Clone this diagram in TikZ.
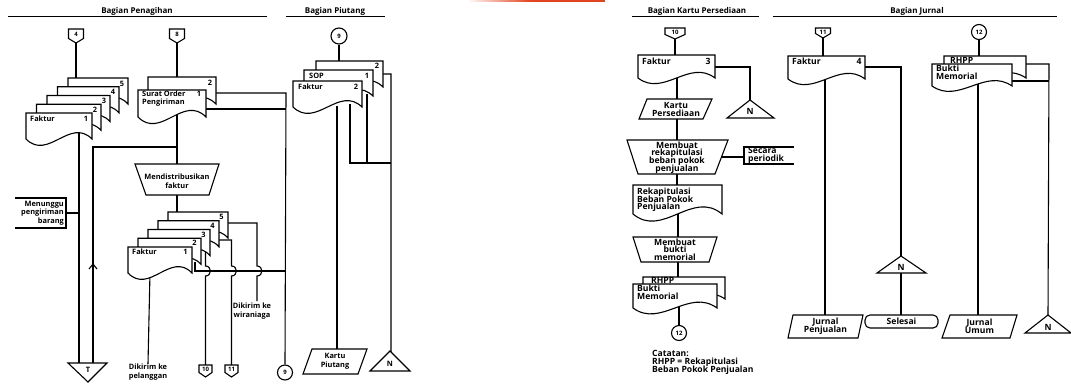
\documentclass[tikz,border=0pt]{standalone}
\usepackage{fontspec}
\setmainfont{Open Sans}
\usetikzlibrary{calc}
\pgfdeclarelayer{paper}
\pgfdeclarelayer{flowlayer}
\pgfsetlayers{paper,flowlayer,main}
\definecolor{barred}{HTML}{E2441F}
\lineskiplimit=-100pt

% document symbol: name, left, top, width, height at the left edge
\newcommand{\docshape}[5]{%
  \filldraw[sym] (#2,#3) -- (#2+#4,#3) -- (#2+#4,#3+#5)
    .. controls (#2+0.667*#4,#3+0.15*#5) and (#2+0.333*#4,#3+1.85*#5) .. (#2,#3+#5) -- cycle;
  \coordinate (#1) at (#2,#3);}
% off-page connector: name, centre x, top, half width, height, label
\newcommand{\offpage}[6]{%
  \filldraw[sym] (#2-#4,#3) -- (#2+#4,#3) -- (#2+#4,#3+#5-4.5) -- (#2,#3+#5) -- (#2-#4,#3+#5-4.5) -- cycle;
  \coordinate (#1-top) at (#2,#3);
  \coordinate (#1-tip) at (#2,#3+#5);
  \node[num] (#1) at (#2,#3+0.4*#5) {#6};}

\begin{document}
\begin{tikzpicture}[x=1pt,y=-1pt,
  sym/.style={line width=1.1pt, fill=white, line join=miter},
  flow/.style={line width=1.1pt},
  rulel/.style={line width=0.9pt},
  lt/.style={font=\bfseries\fontsize{7.4}{8.6}\selectfont, inner sep=0pt, align=center},
  rt/.style={font=\bfseries\fontsize{8.6}{7.6}\selectfont, inner sep=0pt, align=center},
  num/.style={font=\bfseries\fontsize{6}{7}\selectfont, inner sep=0pt},
  head/.style={font=\bfseries\fontsize{8}{9}\selectfont, inner sep=0pt},
  circ/.style={circle, draw, line width=1.1pt, fill=white, minimum size=15pt, inner sep=0pt, font=\bfseries\fontsize{6}{7}\selectfont}]

\useasboundingbox (0,0) rectangle (1071,383);
\begin{pgfonlayer}{paper}
  \fill[white] (0,0) rectangle (1071,383);
  % thin coloured bar along the top edge
  \shade[left color=white, right color=barred] (467,0) rectangle (530,1.8);
  \fill[barred] (530,0) rectangle (605,1.8);
\end{pgfonlayer}

% ---------------- section headings
\node[head] (hPen) at (137,11) {Bagian Penagihan};
\draw[rulel] (8,16) -- (267,16);
\node[head] (hPiu) at (335,11) {Bagian Piutang};
\draw[rulel] (286,16) -- (385,16);
\node[head] (hKP) at (697,11.5) {Bagian Kartu Persediaan};
\draw[rulel] (632,16) -- (759,16);
\node[head] (hJur) at (917,11.5) {Bagian Jurnal};
\draw[rulel] (773,16) -- (1057,16);

% ================= Bagian Penagihan
\offpage{c4}{76}{29}{7.5}{14}{4}
\offpage{c8}{177}{29}{7.5}{14}{8}

% invoice copies 5..1
\docshape{fa5}{68}{78}{60}{26}
\node[lt] (fa5n) at (122,83.5) {5};
\docshape{fa4}{57.5}{86.75}{61.5}{26}
\node[lt] (fa4n) at (113,92.25) {4};
\docshape{fa3}{47}{95.5}{63}{26}
\node[lt] (fa3n) at (104,101) {3};
\docshape{fa2}{36.5}{104.25}{64.5}{26}
\node[lt] (fa2n) at (95,109.75) {2};
\docshape{fa1}{26}{113}{66}{26}
\node[lt, anchor=west] (fa1t) at (30,118.5) {Faktur};
\node[lt] (fa1n) at (86,118.5) {1};

% shipping order copies
\docshape{so2}{148}{77}{68}{27}
\node[lt] (so2n) at (210,83) {2};
\docshape{so1}{138}{90}{68}{27}
\node[lt, anchor=west, align=left] (so1t) at (142,98.5) {Surat Order\\Pengiriman};
\node[lt] (so1n) at (199,94) {1};

% manual operation
\filldraw[sym] (135,164) -- (219,164) -- (209,195) -- (146,195) -- cycle;
\node[lt] (distr) at (177,181) {Mendistribusikan\\faktur};

% waiting annotation
\draw[flow] (15,198) -- (66,198) -- (66,228) -- (15,228);
\node[lt, anchor=east, align=right] (wait) at (64,213) {Menunggu\\pengiriman\\barang};

% temporary file
\filldraw[sym] (68,363) -- (107,363) -- (88,382) -- cycle;
\node[lt] (fileT) at (88,369.5) {T};

% distributed invoice copies 5..1
\docshape{fb5}{168}{212}{60}{26}
\node[lt] (fb5n) at (221.5,217) {5};
\docshape{fb4}{158}{220.75}{61}{26}
\node[lt] (fb4n) at (212.5,225.75) {4};
\docshape{fb3}{148}{229.5}{62}{26}
\node[lt] (fb3n) at (203.5,234.5) {3};
\docshape{fb2}{138}{238.25}{63}{26}
\node[lt] (fb2n) at (194.5,243.25) {2};
\docshape{fb1}{128}{247}{64}{26}
\node[lt, anchor=west] (fb1t) at (132,252) {Faktur};
\node[lt] (fb1n) at (185.5,252) {1};

\node[lt] (toCust) at (148,372) {Dikirim ke\\pelanggan};
\node[lt] (toSales) at (252,311) {Dikirim ke\\wiraniaga};
\offpage{c10b}{205.5}{365}{6.5}{12}{10}
\offpage{c11b}{231.5}{365}{6.5}{12}{11}
\node[circ] (c9b) at (285,372.5) {9};

% ================= Bagian Piutang
\node[circ, minimum size=16pt] (c9t) at (339,36) {9};
\docshape{sp2}{316}{61}{67}{26}
\node[lt] (sp2n) at (377,66) {2};
\docshape{sp1}{304}{70}{69}{26}
\node[lt, anchor=west] (sp1t) at (309,75.5) {SOP};
\node[lt] (sp1n) at (367,75.5) {1};
\docshape{fk2}{293}{81}{69}{26}
\node[lt, anchor=west] (fk2t) at (298,87) {Faktur};
\node[lt] (fk2n) at (356,87) {2};

\filldraw[sym] (312,349) -- (367,349) -- (358,374) -- (303,374) -- cycle;
\node[lt] (kpiu) at (335,361.5) {Kartu\\Piutang};
\filldraw[sym] (390,351) -- (410,371) -- (370,371) -- cycle;
\node[lt] (nPiu) at (390,364) {N};

% ================= Bagian Kartu Persediaan
\offpage{c10t}{675}{28}{10}{11}{10}
\docshape{fk3}{638}{55}{77}{23}
\node[rt, anchor=west] (fk3t) at (642,61) {Faktur};
\node[rt] (fk3n) at (708,61) {3};
\filldraw[sym] (750,100) -- (774,118) -- (727,118) -- cycle;
\node[rt] (nKP) at (750,111.5) {N};

\filldraw[sym] (647,99) -- (712,99) -- (703,119) -- (639,119) -- cycle;
\node[rt] (kper) at (676,109.5) {Kartu\\Persediaan};

\filldraw[sym] (627,140) -- (728,140) -- (715,174) -- (638,174) -- cycle;
\node[rt] (rekap) at (677,157.5) {Membuat\\rekapitulasi\\beban pokok\\penjualan};

\draw[flow] (794,147) -- (744,147) -- (744,164) -- (794,164);
\node[rt, anchor=west, align=left] (period) at (748,155.5) {Secara\\periodik};

\docshape{rk}{633}{185}{89}{29}
\node[rt, anchor=north west, align=left] (rkt) at (637,188) {Rekapitulasi\\Beban Pokok\\Penjualan};

\filldraw[sym] (633,237) -- (717,237) -- (709,262) -- (641,262) -- cycle;
\node[rt] (bukti) at (675,249.5) {Membuat\\bukti\\memorial};

\docshape{rh1}{643}{277}{82}{22}
\node[rt, anchor=west] (rh1t) at (651,280.5) {RHPP};
\docshape{bm1}{633}{284}{84}{24}
\node[rt, anchor=west, align=left] (bm1t) at (637,292.5) {Bukti\\Memorial};
\node[circ] (c12b) at (679,333) {12};

\node[rt, anchor=north west, align=left] (note) at (652,350.5) {Catatan:\\RHPP = Rekapitulasi\\Beban Pokok Penjualan};

% ================= Bagian Jurnal
\offpage{c11t}{823}{28}{7.5}{10}{11}
\docshape{fk4}{788}{56}{77}{23}
\node[rt, anchor=west] (fk4t) at (792,61.5) {Faktur};
\node[rt] (fk4n) at (859,61.5) {4};
\filldraw[sym] (901,256) -- (926,273) -- (877,273) -- cycle;
\node[rt] (nJur1) at (901,267) {N};
\filldraw[sym, rounded corners=5pt] (865,315) rectangle (938,328);
\node[rt] (done) at (901.5,321.5) {Selesai};
\filldraw[sym] (793,315) -- (863,315) -- (858,338) -- (788,338) -- cycle;
\node[rt] (jpen) at (825.5,326.5) {Jurnal\\Penjualan};

\node[circ] (c12t) at (979,32) {12};
\docshape{rh2}{944}{56}{82}{22}
\node[rt, anchor=west] (rh2t) at (950,60) {RHPP};
\docshape{bm2}{932}{64}{80}{22}
\node[rt, anchor=west, align=left] (bm2t) at (936,72.5) {Bukti\\Memorial};
\filldraw[sym] (950,315) -- (1017,315) -- (1010,338) -- (942,338) -- cycle;
\node[rt] (jumum) at (979.5,326.5) {Jurnal\\Umum};
\filldraw[sym] (1048,315) -- (1071,333) -- (1025,333) -- cycle;
\node[rt] (nJur2) at (1048,327) {N};

% ================= flow lines, kept beneath the symbols
\begin{pgfonlayer}{flowlayer}
  % Penagihan
  \coordinate (fa5in) at (76,80);
  \coordinate (faout) at (79,130);
  \coordinate (tL) at (79,363);
  \coordinate (tR) at (93,363);
  \coordinate (ret) at (93,147);
  \coordinate (so2in) at (177,79);
  \coordinate (soout) at (177,112);
  \coordinate (distrTop) at (177,165);
  \coordinate (distrBot) at (177,194);
  \coordinate (fb5in) at (177,214);
  \draw[flow] (c4-tip) -- (fa5in);
  \draw[flow] (c8-tip) -- (so2in);
  \draw[flow] (faout) -- (tL);
  \draw[flow] (tR) -- (ret) -- (ret -| soout);
  \draw[flow] (89,269) -- (93,264) -- (97,269);
  \draw[flow] (soout) -- (distrTop);
  \draw[flow] (distrBot) -- (fb5in);
  \draw[flow] (66,213) -- (faout |- 66,213);

  % shipping order copies to Bagian Piutang
  \coordinate (so2out) at (214,93);
  \coordinate (so1out) at (204,109);
  \coordinate (toPiu) at (286,93);
  \draw[flow] (so2out) -- (toPiu) -- (c9b.north);
  \draw[flow] (so1out) -- (so1out -| toPiu);

  % invoice copies
  \coordinate (hz) at (285,271);
  \coordinate (fb1out) at (150,272);
  \draw[flow] (fb1out) -- (toCust.north);
  \coordinate (fb2out) at (195,262);
  \draw[flow] (fb2out) -- (fb2out |- hz) -- (hz);
  \coordinate (fb3out) at (205.5,250);
  \draw[flow] (fb3out) -- ($(fb3out |- hz)+(0,-5)$) .. controls +(6.5,0) and +(6.5,0) .. ($(fb3out |- hz)+(0,5)$) -- (c10b-top);
  \coordinate (fb4out) at (217,240);
  \draw[flow] (fb4out) -- (231.5,240) -- ($(c11b-top |- hz)+(0,-5)$) .. controls +(6.5,0) and +(6.5,0) .. ($(c11b-top |- hz)+(0,5)$) -- (c11b-top);
  \coordinate (fb5out) at (226,223);
  \coordinate (sales) at (257,223);
  \draw[flow] (fb5out) -- (sales) -- ($(sales |- hz)+(0,-5)$) .. controls +(6.5,0) and +(6.5,0) .. ($(sales |- hz)+(0,5)$) -- (257,301);

  % Piutang
  \draw[flow] (c9t.south) -- (339,63);
  \coordinate (sp2out) at (381,74);
  \coordinate (fileN) at (391,74);
  \draw[flow] (sp2out) -- (fileN) -- (fileN |- nPiu.north) -- (390,352);
  \coordinate (merge) at (350,163);
  \draw[flow] (350,104) -- (merge) -- (merge -| fileN);
  \draw[flow] (367,94) -- (367,163);
  \draw[flow] (337,106) -- (337,350);

  % Kartu Persediaan
  \draw[flow] (c10t-tip) -- (675,57);
  \coordinate (fk3out) at (713,67);
  \draw[flow] (fk3out) -- (750,67) -- (750,101);
  \draw[flow] (677,76) -- (677,100);
  \draw[flow] (677,118) -- (677,141);
  \draw[flow] (722,157) -- (744,157);
  \draw[flow] (677,173) -- (677,187);
  \draw[flow] (678,212) -- (678,238);
  \draw[flow] (678,261) -- (678,279);
  \draw[flow] (679,305) -- (c12b.north);

  % Jurnal
  \draw[flow] (c11t-tip) -- (823,58);
  \coordinate (fk4out) at (863,67);
  \draw[flow] (fk4out) -- (901,67) -- (901,257);
  \draw[flow] (901,272) -- (901,316);
  \draw[flow] (825,76) -- (825,316);
  \draw[flow] (c12t.south) -- (979,58);
  \coordinate (rh2out) at (1024,64);
  \draw[flow] (rh2out) -- (1049,64) -- (1048,316);
  \draw[flow] (1010,81) -- (1049,81);
  \draw[flow] (978,84) -- (978,316);
\end{pgfonlayer}
\end{tikzpicture}
\end{document}
